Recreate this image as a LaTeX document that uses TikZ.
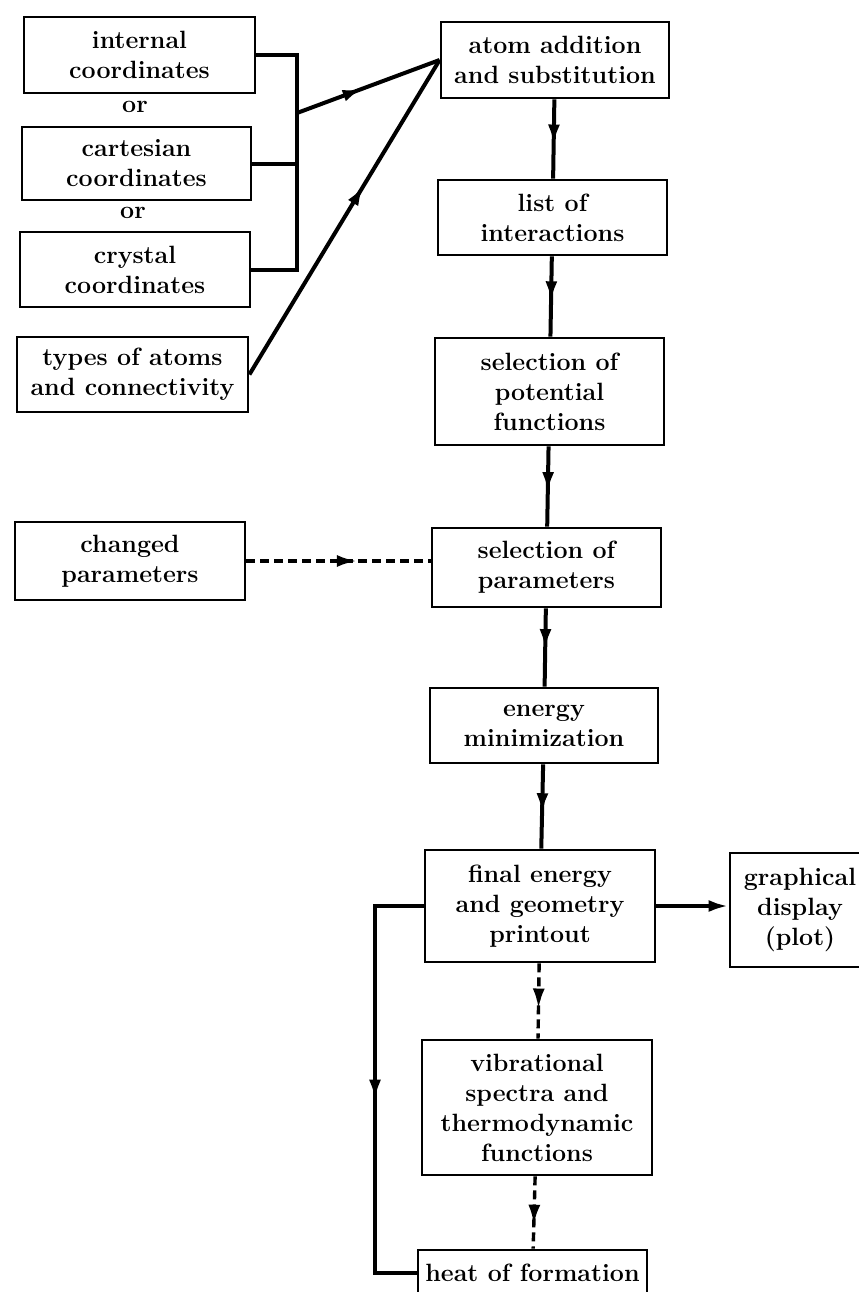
\documentclass[tikz,border=0pt]{standalone}
\usetikzlibrary{arrows.meta,decorations.markings}
\begin{document}
\begin{tikzpicture}[x=0.5pt,y=-0.5pt,
  box/.style={draw,line width=1.4pt,align=center,inner sep=0pt,
    font=\fontsize{12.5}{15}\selectfont\bfseries},
  plain/.style={inner sep=0pt,font=\fontsize{12.5}{15}\selectfont\bfseries},
  conn/.style={line width=2pt},
  dconn/.style={line width=1.7pt,dash pattern=on 4.5pt off 2.5pt},
  midarrow/.style={postaction={decorate},decoration={markings,
    mark=at position #1 with {\arrow{Latex[length=10pt,width=6pt]}}}},
  midarrow/.default=0.5]
\useasboundingbox (0,0) rectangle (858,1292);

% left inputs
\node[box,minimum width=115.5pt,minimum height=38pt] (int) at (139.5,55) {internal\\coordinates};
\node[plain] (or1) at (135,107) {or};
\node[box,minimum width=114.5pt,minimum height=36.5pt] (cart) at (136.5,163.5) {cartesian\\coordinates};
\node[plain] (or2) at (133,213) {or};
\node[box,minimum width=115pt,minimum height=37.5pt] (cryst) at (135,269.5) {crystal\\coordinates};
\node[box,minimum width=115.5pt,minimum height=37.5pt] (types) at (132.5,374.5) {types of atoms\\and connectivity};
\node[box,minimum width=115pt,minimum height=39pt] (chg) at (130,561) {changed\\parameters};

% main column
\node[box,minimum width=114pt,minimum height=38pt] (atom) at (555,60) {atom addition\\and substitution};
\node[box,minimum width=114.5pt,minimum height=37.5pt] (list) at (552.5,217.5) {list of\\interactions};
\node[box,minimum width=114.5pt,minimum height=53.5pt] (selpot) at (549.5,391.5) {selection of\\potential\\functions};
\node[box,minimum width=114.5pt,minimum height=39.5pt] (selpar) at (546.5,567.5) {selection of\\parameters};
\node[box,minimum width=114pt,minimum height=37.5pt] (energy) at (544,725.5) {energy\\minimization};
\node[box,minimum width=115pt,minimum height=56pt] (final) at (540,906) {final energy\\and geometry\\printout};
\node[box,minimum width=70pt,minimum height=57pt] (graph) at (800,910) {graphical\\display\\(plot)};
\node[box,minimum width=115pt,minimum height=67.5pt] (vib) at (537,1107.5) {vibrational\\spectra and\\thermodynamic\\functions};
\node[box,minimum width=114.5pt,minimum height=23pt] (heat) at (532.5,1273) {heat of formation};

% bracket joining the coordinate inputs
\coordinate (brk) at (297,113);
\draw[conn] (int.east) -- (int.east -| brk) -- (cryst.east -| brk) -- (cryst.east);
\draw[conn] (cart.east) -- (cart.east -| brk);
\draw[conn,midarrow=0.46] (brk) -- (atom.west);
\draw[conn,midarrow=0.6] (types.east) -- (atom.west);

% main flow
\draw[conn,midarrow=0.57] (atom) -- (list);
\draw[conn,midarrow=0.56] (list) -- (selpot);
\draw[conn,midarrow=0.57] (selpot) -- (selpar);
\draw[conn,midarrow=0.52] (selpar) -- (energy);
\draw[conn,midarrow=0.58] (energy) -- (final);
\draw[conn,-{Latex[length=10pt,width=6pt]}] (final.east) -- (final.east -| graph.west);
\draw[dconn,midarrow=0.6] (chg.east) -- (chg.east -| selpar.west);
\draw[dconn,midarrow=0.6] (final) -- (vib);
\draw[dconn,midarrow=0.67] (vib) -- (heat);
\coordinate (loop) at (375,906);
\draw[conn,midarrow=0.53] (final.west) -- (loop) -- (loop |- heat.west) -- (heat.west);
\end{tikzpicture}
\end{document}
